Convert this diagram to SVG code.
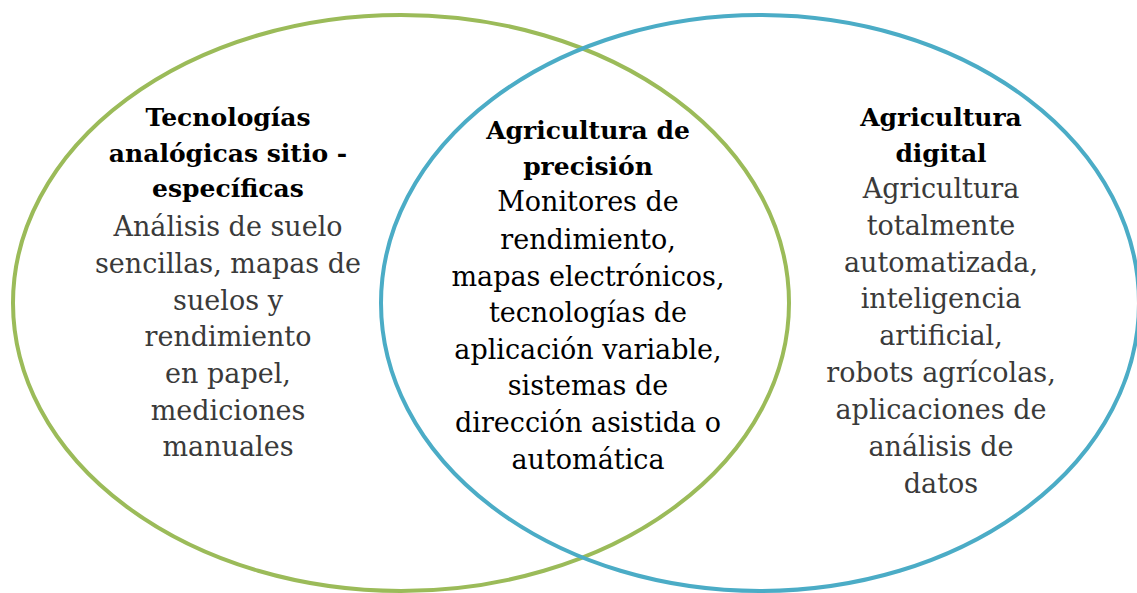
<svg xmlns="http://www.w3.org/2000/svg" width="1137" height="593" viewBox="0 0 1137 593">
<style>
.ring{fill:none;stroke-width:4}
.t{font-family:"DejaVu Serif","Liberation Serif",serif;text-anchor:middle}
.h{font-weight:bold;font-size:25px;fill:#000}
.b{font-size:27px;fill:#3a3a3a}
.m{font-size:27px;fill:#000}
</style>
<rect width="1137" height="593" fill="#fff"/>
<g id="circle-analog">
<ellipse class="ring" cx="401" cy="303" rx="388" ry="288" stroke="#9bbb59"/>
</g>
<g id="circle-digital">
<ellipse class="ring" cx="760" cy="303" rx="379" ry="288" stroke="#4bacc6"/>
</g>
<g id="node-analog" class="t">
<text class="h" x="228" y="126">Tecnologías</text>
<text class="h" x="228" y="162">analógicas sitio -</text>
<text class="h" x="228" y="197">específicas</text>
<text class="b" x="228" y="236">Análisis de suelo</text>
<text class="b" x="228" y="273">sencillas, mapas de</text>
<text class="b" x="228" y="310">suelos y</text>
<text class="b" x="228" y="346">rendimiento</text>
<text class="b" x="228" y="383">en papel,</text>
<text class="b" x="228" y="420">mediciones</text>
<text class="b" x="228" y="456">manuales</text>
</g>
<g id="node-precision" class="t">
<text class="h" x="588" y="139">Agricultura de</text>
<text class="h" x="588" y="175">precisión</text>
<text class="m" x="588" y="211">Monitores de</text>
<text class="m" x="588" y="249">rendimiento,</text>
<text class="m" x="588" y="286">mapas electrónicos,</text>
<text class="m" x="588" y="322">tecnologías de</text>
<text class="m" x="588" y="359">aplicación variable,</text>
<text class="m" x="588" y="395">sistemas de</text>
<text class="m" x="588" y="432">dirección asistida o</text>
<text class="m" x="588" y="469">automática</text>
</g>
<g id="node-digital" class="t">
<text class="h" x="941" y="126">Agricultura</text>
<text class="h" x="941" y="162">digital</text>
<text class="b" x="941" y="198">Agricultura</text>
<text class="b" x="941" y="235">totalmente</text>
<text class="b" x="941" y="272">automatizada,</text>
<text class="b" x="941" y="308">inteligencia</text>
<text class="b" x="941" y="345">artificial,</text>
<text class="b" x="941" y="382">robots agrícolas,</text>
<text class="b" x="941" y="419">aplicaciones de</text>
<text class="b" x="941" y="456">análisis de</text>
<text class="b" x="941" y="493">datos</text>
</g>
</svg>
